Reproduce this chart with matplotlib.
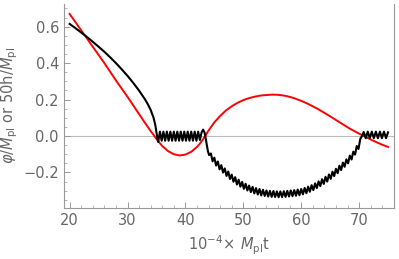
import numpy as np
import matplotlib.pyplot as plt

# red curve: phi / M_pl
red_t = [20, 22, 24, 26, 28, 30, 32, 33, 34, 34.5, 35, 35.5, 36, 37, 38, 39, 40, 41, 42,
         42.5, 43, 43.4, 44, 45, 46, 47, 48, 49, 50, 51, 52, 53, 54, 55, 56, 57, 58, 59,
         60, 61, 62, 63, 64, 65, 66, 67, 68, 69, 70, 71, 72, 73, 74, 75]
red_y = [0.67, 0.58, 0.49, 0.40, 0.305, 0.215, 0.12, 0.073, 0.027, 0.006, -0.016,
         -0.036, -0.055, -0.083, -0.10, -0.107, -0.102, -0.087, -0.06,
         -0.042, -0.02, 0.0, 0.03, 0.075, 0.11, 0.14, 0.163, 0.182, 0.197, 0.208, 0.216,
         0.222, 0.225, 0.227, 0.226, 0.222, 0.215, 0.205,
         0.193, 0.179, 0.163, 0.146, 0.127, 0.108, 0.088, 0.068, 0.048, 0.03, 0.013,
         -0.003, -0.019, -0.034, -0.048, -0.06]

# black curve: 50 h / M_pl (smooth part, then oscillating parts)
blk_t0 = [20, 21, 22, 23, 24, 25, 26, 27, 28, 29, 30, 31, 32, 33, 33.5, 34, 34.5, 34.8,
          35.0, 35.15]
blk_y0 = [0.615, 0.592, 0.568, 0.543, 0.517, 0.490, 0.462, 0.432, 0.400, 0.366, 0.330,
          0.291, 0.249, 0.202, 0.175, 0.143, 0.100, 0.06, 0.02, -0.01]

blk_t1 = [35.3, 35.6, 35.9, 36.2, 36.5, 36.8, 37.1, 37.4, 37.7, 38.0, 38.3, 38.6, 38.9,
          39.2, 39.5, 39.8, 40.1, 40.4, 40.7, 41.0, 41.3, 41.6, 41.9, 42.2, 42.5,
          42.8, 43.05, 43.3, 43.5, 43.7, 43.9, 44.1]
blk_y1 = [-0.033, 0.024, -0.026, 0.024, -0.026, 0.024, -0.026, 0.024, -0.026, 0.024,
          -0.026, 0.024, -0.026, 0.024, -0.026, 0.024, -0.026, 0.024, -0.026, 0.024,
          -0.026, 0.024, -0.026, 0.024, -0.022,
          0.02, 0.035, 0.02, -0.01, -0.05, -0.085, -0.105]

blk_t2 = [44.4, 44.7, 45.0, 45.3, 45.6, 45.9, 46.2, 46.5, 46.8, 47.1, 47.4, 47.7, 48.0,
          48.3, 48.6, 48.9, 49.2, 49.5, 49.8, 50.1, 50.4, 50.7, 51.0, 51.3, 51.6, 51.9,
          52.2, 52.5, 52.8, 53.1, 53.4, 53.7, 54.0, 54.3, 54.6, 54.9, 55.2, 55.5, 55.8,
          56.1, 56.4, 56.7, 57.0, 57.3, 57.6, 57.9, 58.2, 58.5, 58.8, 59.1, 59.4, 59.7,
          60.0, 60.3, 60.6, 60.9, 61.2, 61.5, 61.8, 62.1, 62.4, 62.7, 63.0, 63.3, 63.6,
          63.9, 64.2, 64.5, 64.8, 65.1, 65.4, 65.7, 66.0, 66.3, 66.6, 66.9, 67.2, 67.5,
          67.8, 68.1, 68.4, 68.7, 69.0, 69.3, 69.6, 69.9, 70.2]
blk_y2 = [-0.096, -0.139, -0.119, -0.162, -0.140, -0.183, -0.160, -0.201, -0.178, -0.219,
          -0.195, -0.236, -0.212, -0.251, -0.226, -0.266, -0.240, -0.278, -0.252, -0.290,
          -0.262, -0.299, -0.272, -0.308, -0.279, -0.315, -0.286, -0.321, -0.291, -0.326,
          -0.295, -0.329, -0.299, -0.332, -0.301, -0.334, -0.302, -0.335, -0.304, -0.336,
          -0.304, -0.335, -0.303, -0.334, -0.301, -0.332, -0.299, -0.330, -0.297, -0.328,
          -0.294, -0.325, -0.291, -0.320, -0.285, -0.314, -0.278, -0.306, -0.270, -0.297,
          -0.260, -0.286, -0.249, -0.275, -0.237, -0.263, -0.224, -0.250, -0.211, -0.235,
          -0.196, -0.220, -0.180, -0.204, -0.163, -0.187, -0.146, -0.169, -0.128, -0.150,
          -0.108, -0.129, -0.086, -0.102, -0.055, -0.071, -0.017]

blk_t3 = [70.5, 70.8, 71.15, 71.5, 71.85, 72.2, 72.55, 72.9, 73.25, 73.6, 73.95, 74.3,
          74.65, 75.0]
blk_y3 = [0.0, 0.022, -0.012, 0.024, -0.012, 0.024, -0.012, 0.024, -0.012, 0.024,
          -0.012, 0.024, -0.012, 0.02]

blk_t = blk_t0 + blk_t1 + blk_t2 + blk_t3
blk_y = blk_y0 + blk_y1 + blk_y2 + blk_y3

x_ticks = [20, 30, 40, 50, 60, 70]
y_ticks = [-0.2, 0.0, 0.2, 0.4, 0.6]

gray = '#666666'
fig = plt.figure(figsize=(3.99, 2.59), dpi=100)
ax = fig.add_axes([0.160, 0.197, 0.827, 0.788])

ax.axhline(0, color='#bbbbbb', lw=0.8, zorder=1)
ax.plot(blk_t, blk_y, color='black', lw=1.5, zorder=3)
ax.plot(red_t, red_y, color='#ff0000', lw=1.4, zorder=2)

ax.set_xlim(19, 76)
ax.set_ylim(-0.395, 0.725)
ax.set_xticks(x_ticks)
ax.set_yticks(y_ticks)
ax.set_yticklabels(['\u22120.2', '0.0', '0.2', '0.4', '0.6'])
ax.set_xticks(np.arange(20, 76, 2), minor=True)
ax.set_yticks(np.arange(-0.35, 0.72, 0.05), minor=True)
ax.tick_params(which='both', direction='in', colors='#999999', labelcolor=gray,
               labelsize=10.5, top=False, right=False)
ax.tick_params(which='major', length=4, width=0.7)
ax.tick_params(which='minor', length=2, width=0.5)
for s in ['left', 'bottom', 'right']:
    ax.spines[s].set_color('#999999')
    ax.spines[s].set_linewidth(0.8)
ax.spines['top'].set_visible(False)

ax.set_xlabel(r'$10^{-4}\!\times\, M_{\rm pl}$t', color=gray, fontsize=10.5, labelpad=4)
ax.set_ylabel(r'$\varphi/M_{\rm pl}$ or 50h/$M_{\rm pl}$', color=gray, fontsize=10.5,
              labelpad=2)

fig.savefig('out.png', dpi=100)
